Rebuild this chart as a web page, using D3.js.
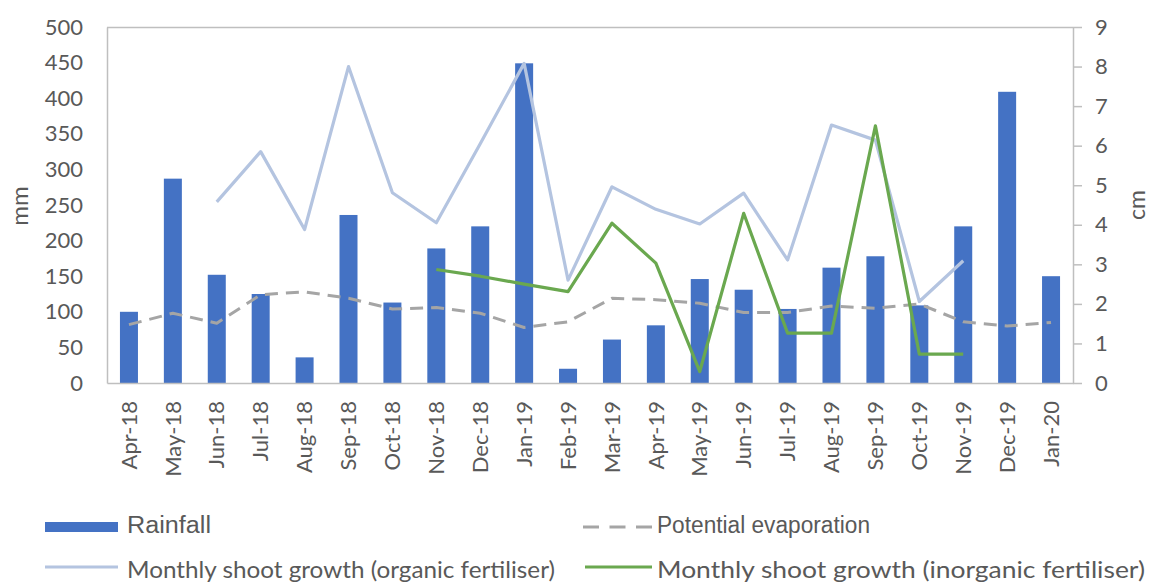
<!DOCTYPE html>
<html>
<head>
<meta charset="utf-8">
<script src="https://cdn.jsdelivr.net/npm/d3@7"></script>
<style>
  html, body { margin: 0; padding: 0; background: #ffffff; }
  svg { display: block; }
</style>
</head>
<body>
<svg id="chart" width="1149" height="584"></svg>
<script>
const months = ["Apr-18","May-18","Jun-18","Jul-18","Aug-18","Sep-18","Oct-18","Nov-18","Dec-18","Jan-19","Feb-19","Mar-19","Apr-19","May-19","Jun-19","Jul-19","Aug-19","Sep-19","Oct-19","Nov-19","Dec-19","Jan-20"];
const rainfall = [100, 287, 152, 125, 36, 236, 113, 189, 220, 449, 20, 61, 81, 146, 131, 104, 162, 178, 109, 220, 409, 150];
const evaporation = [82, 98, 84, 124, 128, 119, 104, 106, 98, 78, 86, 119, 117, 112, 99, 99, 108, 105, 111, 86, 80, 85];
const organicGrowth = [null, null, 4.58, 5.85, 3.88, 8.0, 4.81, 4.05, 6.05, 8.08, 2.6, 4.96, 4.39, 4.02, 4.8, 3.11, 6.52, 6.14, 2.06, 3.09, null, null];
const inorganicGrowth = [null, null, null, null, null, null, null, 2.87, 2.7, 2.5, 2.31, 4.04, 3.03, 0.29, 4.29, 1.26, 1.26, 6.5, 0.73, 0.73, null, null];
const mmTicks = [0, 50, 100, 150, 200, 250, 300, 350, 400, 450, 500];
const cmTicks = [0, 1, 2, 3, 4, 5, 6, 7, 8, 9];

const svg = d3.select("#chart");
const pLeft = 107, pRight = 1073, pTop = 27, pBottom = 383;
const axisColor = "#bfbfbf", textColor = "#595959";
const font = "Lato, 'Open Sans', sans-serif";

const x = d3.scaleBand().domain(months).range([pLeft, pRight]).paddingInner(0.59).paddingOuter(0.295);
const yL = d3.scaleLinear().domain([0, 500]).range([pBottom, pTop]);
const yR = d3.scaleLinear().domain([0, 9]).range([pBottom, pTop]);
const cx = d => x(d) + x.bandwidth() / 2;

// top border
svg.append("line").attr("x1", pLeft).attr("x2", pRight).attr("y1", pTop + 0.5).attr("y2", pTop + 0.5)
  .attr("stroke", axisColor).attr("stroke-width", 1.5);

// bars
svg.append("g").selectAll("rect").data(months).join("rect")
  .attr("x", d => x(d)).attr("width", x.bandwidth())
  .attr("y", (d, i) => yL(rainfall[i])).attr("height", (d, i) => yL(0) - yL(rainfall[i]))
  .attr("fill", "#4472c4");

const lineL = d3.line().defined(d => d.v != null).x(d => cx(d.m)).y(d => yL(d.v));
const lineR = d3.line().defined(d => d.v != null).x(d => cx(d.m)).y(d => yR(d.v));
svg.append("path").datum(months.map((m, i) => ({m, v: evaporation[i]})))
  .attr("d", lineL).attr("fill", "none").attr("stroke", "#a5a5a5")
  .attr("stroke-width", 3).attr("stroke-dasharray", "13,8").attr("stroke-linejoin", "round");

svg.append("path").datum(months.map((m, i) => ({m, v: organicGrowth[i]})))
  .attr("d", lineR).attr("fill", "none").attr("stroke", "#b4c4e0")
  .attr("stroke-width", 3.2).attr("stroke-linejoin", "round");

svg.append("path").datum(months.map((m, i) => ({m, v: inorganicGrowth[i]})))
  .attr("d", lineR).attr("fill", "none").attr("stroke", "#6aa84f")
  .attr("stroke-width", 3.2).attr("stroke-linejoin", "round");

// left axis
const gL = svg.append("g").attr("transform", `translate(${pLeft},0)`)
  .call(d3.axisLeft(yL).tickValues(mmTicks).tickSize(0).tickPadding(24));
gL.select(".domain").attr("stroke", axisColor).attr("stroke-width", 1.5);
gL.selectAll("text").attr("fill", textColor).style("font-family", font).style("font-size", "22px");

// right axis
const gR = svg.append("g").attr("transform", `translate(${pRight},0)`)
  .call(d3.axisRight(yR).tickValues(cmTicks).tickSizeInner(9).tickSizeOuter(0).tickPadding(13));
gR.select(".domain").attr("stroke", axisColor).attr("stroke-width", 1.5);
gR.selectAll(".tick line").attr("stroke", axisColor).attr("stroke-width", 1.5);
gR.selectAll("text").attr("fill", textColor).style("font-family", font).style("font-size", "22px");

// bottom axis
const gB = svg.append("g").attr("transform", `translate(0,${pBottom})`)
  .call(d3.axisBottom(x).tickSize(0).tickPadding(0));
gB.select(".domain").attr("stroke", axisColor).attr("stroke-width", 1.5);
gB.selectAll("text")
  .attr("fill", textColor).style("font-family", font).style("font-size", "22px")
  .attr("text-anchor", "end").attr("dy", "0.35em").attr("y", 0).attr("x", 0)
  .attr("transform", "translate(0,18) rotate(-90)");

// axis titles
svg.append("text").attr("transform", "translate(28,206) rotate(-90)")
  .attr("text-anchor", "middle").attr("fill", textColor)
  .style("font-family", font).style("font-size", "24px").text("mm");
svg.append("text").attr("transform", "translate(1145,205) rotate(-90)")
  .attr("text-anchor", "middle").attr("fill", textColor)
  .style("font-family", font).style("font-size", "23px").text("cm");

// legend
const lg = svg.append("g");
lg.append("rect").attr("x", 45).attr("y", 522).attr("width", 73).attr("height", 10).attr("fill", "#4472c4");
lg.append("text").attr("x", 127).attr("y", 533).attr("fill", textColor)
  .style("font-family", "'Liberation Sans', Arial, sans-serif").style("font-size", "23px")
  .attr("textLength", 84).attr("lengthAdjust", "spacingAndGlyphs").text("Rainfall");
lg.append("line").attr("x1", 583).attr("x2", 652).attr("y1", 527).attr("y2", 527)
  .attr("stroke", "#a5a5a5").attr("stroke-width", 3).attr("stroke-dasharray", "16,10.5");
lg.append("text").attr("x", 657).attr("y", 533).attr("fill", textColor)
  .style("font-family", "'Liberation Sans', Arial, sans-serif").style("font-size", "23px")
  .attr("textLength", 213).attr("lengthAdjust", "spacingAndGlyphs").text("Potential evaporation");
lg.append("line").attr("x1", 45).attr("x2", 118).attr("y1", 567).attr("y2", 567)
  .attr("stroke", "#b4c4e0").attr("stroke-width", 3);
lg.append("text").attr("x", 127).attr("y", 578).attr("fill", textColor)
  .style("font-family", font).style("font-size", "23px")
  .attr("textLength", 428).attr("lengthAdjust", "spacingAndGlyphs").text("Monthly shoot growth (organic fertiliser)");
lg.append("line").attr("x1", 585).attr("x2", 652).attr("y1", 567).attr("y2", 567)
  .attr("stroke", "#6aa84f").attr("stroke-width", 3);
lg.append("text").attr("x", 657).attr("y", 578).attr("fill", textColor)
  .style("font-family", font).style("font-size", "23px")
  .attr("textLength", 488).attr("lengthAdjust", "spacingAndGlyphs").text("Monthly shoot growth (inorganic fertiliser)");
</script>
</body>
</html>
